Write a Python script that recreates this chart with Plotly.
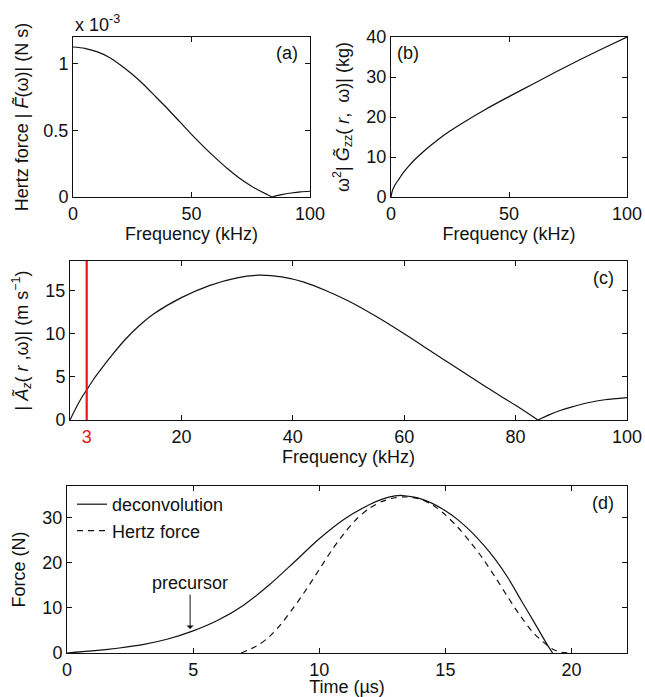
import plotly.graph_objects as go

# ---------------- data ----------------
# (a) Hertz force spectrum magnitude, units of 1e-3 N s
freq_a = [0, 5, 10, 15, 20, 25, 30, 35, 40, 45, 50, 55, 60, 65, 70, 75, 80, 84, 86, 88, 92, 96, 100]
hertz_spec = [1.125, 1.115, 1.09, 1.05, 0.99, 0.92, 0.84, 0.75, 0.66, 0.565, 0.47, 0.38, 0.295,
              0.215, 0.145, 0.085, 0.035, 0.0, 0.01, 0.018, 0.03, 0.039, 0.043]

# (b) omega^2 |G_zz| (kg)
freq_b = [0, 0.5, 1, 2, 3.5, 5, 7.5, 10, 15, 20, 25, 30, 40, 50, 60, 70, 80, 90, 100]
mass_b = [0, 1.4, 2.2, 3.3, 4.6, 5.9, 7.7, 9.3, 12.0, 14.4, 16.5, 18.4, 21.9, 25.1, 28.2, 31.3, 34.3, 37.2, 40.0]

# (c) |A_z| (m s^-1)
freq_c = [0, 1, 2, 3, 4, 5, 7.5, 10, 12.5, 15, 20, 25, 30, 34, 38, 42, 46, 50, 55, 60, 65, 70, 75, 80,
          84, 86, 88, 90, 93, 96, 100]
accel_c = [0, 1.3, 2.5, 3.5, 4.5, 5.4, 7.5, 9.4, 11.0, 12.3, 14.2, 15.6, 16.5, 16.8, 16.6, 16.0, 15.0,
           13.8, 12.0, 10.0, 7.9, 5.8, 3.7, 1.7, 0.0, 0.6, 1.1, 1.5, 2.0, 2.35, 2.6]
marker_freq = 3

# (d) force histories (N)
time_dec = [0, 1, 2, 3, 4, 5, 6, 7, 8, 9, 10, 11, 12, 12.5, 13, 13.3, 13.7, 14, 14.5, 15, 15.5, 16,
            16.5, 17, 17.5, 18, 18.5, 19, 19.25]
force_dec = [0, 0.45, 1.05, 1.85, 3.1, 4.9, 7.3, 10.6, 15.0, 20.1, 25.3, 29.7, 32.9, 34.1, 34.8, 34.9,
             34.6, 34.2, 33.1, 31.5, 29.5, 27.0, 24.0, 20.6, 16.5, 11.7, 7.0, 2.2, 0]
time_hz = [6.9, 7.5, 8, 8.5, 9, 9.5, 10, 10.5, 11, 11.5, 12, 12.5, 13, 13.4, 14, 14.5, 15, 15.5, 16,
           16.5, 17, 17.5, 18, 18.5, 19, 19.3, 19.6, 20]
force_hz = [0, 1.5, 3.5, 6.5, 10.2, 14.2, 18.5, 22.8, 26.6, 29.8, 32.1, 33.6, 34.4, 34.6, 34.1, 32.8,
            30.6, 27.8, 24.5, 20.8, 16.6, 12.2, 8.0, 4.4, 1.9, 0.7, 0.15, 0]
precursor_t = 4.88
precursor_f = 5.3

# ---------------- figure ----------------
W, H = 645, 697
FONT = "Liberation Sans, Arial, Helvetica, sans-serif"
INK = "#111111"
RED = "#e8151b"


def px_x(a, b):
    return [a / W, b / W]


def px_y(top, bottom):
    return [1 - bottom / H, 1 - top / H]


def cusp_split(xs, ys):
    """split a |.| curve at its interior zero so each branch can be smoothed"""
    k = ys.index(0.0, 1)
    return (xs[:k + 1], ys[:k + 1]), (xs[k:], ys[k:])


fig = go.Figure()
line = dict(color=INK, width=1.2, shape="spline", smoothing=0.8)

for (xs, ys) in cusp_split(freq_a, hertz_spec):
    fig.add_trace(go.Scatter(x=xs, y=ys, mode="lines", line=line, showlegend=False,
                             xaxis="x", yaxis="y"))
fig.add_trace(go.Scatter(x=freq_b, y=mass_b, mode="lines", line=line, showlegend=False,
                         xaxis="x2", yaxis="y2"))
for (xs, ys) in cusp_split(freq_c, accel_c):
    fig.add_trace(go.Scatter(x=xs, y=ys, mode="lines", line=line, showlegend=False,
                             xaxis="x3", yaxis="y3"))
fig.add_trace(go.Scatter(x=time_dec, y=force_dec, mode="lines", line=line, name="deconvolution",
                         xaxis="x4", yaxis="y4"))
fig.add_trace(go.Scatter(x=time_hz, y=force_hz, mode="lines", name="Hertz force",
                         line=dict(color=INK, width=1.2, dash="6px,5px", shape="spline", smoothing=0.8),
                         xaxis="x4", yaxis="y4"))

axis_common = dict(showline=True, linecolor=INK, linewidth=1, mirror="ticks", ticks="inside",
                   ticklen=5, tickcolor=INK, tickwidth=1, showgrid=False, zeroline=False,
                   automargin=False,
                   tickfont=dict(family=FONT, size=18, color=INK),
                   title_font=dict(family=FONT, size=18, color=INK))

fig.update_layout(
    width=W, height=H, margin=dict(l=0, r=0, t=0, b=0, autoexpand=False),
    paper_bgcolor="white", plot_bgcolor="white",
    font=dict(family=FONT, size=18, color=INK),
    xaxis=dict(axis_common, domain=px_x(73, 310), anchor="y", range=[0, 100],
               tickvals=[0, 50, 100], title=dict(text="Frequency (kHz)", standoff=2)),
    yaxis=dict(axis_common, domain=px_y(37, 197), anchor="x", range=[0, 1.2],
               tickvals=[0, 0.5, 1], ticktext=["0", "0.5", "1"],
               title=dict(text="Hertz force | <i>F\u0303</i>(\u03c9)| (N s)", standoff=10)),
    xaxis2=dict(axis_common, domain=px_x(391, 627), anchor="y2", range=[0, 100],
                tickvals=[0, 50, 100], title=dict(text="Frequency (kHz)", standoff=2)),
    yaxis2=dict(axis_common, domain=px_y(37, 197), anchor="x2", range=[0, 40],
                tickvals=[0, 10, 20, 30, 40],
                title=dict(text="\u03c9<sup>2</sup>| <i>G\u0303</i><sub>zz</sub>( <i>r</i>,  \u03c9)| (kg)",
                           standoff=12)),
    xaxis3=dict(axis_common, domain=px_x(70, 627), anchor="y3", range=[0, 100],
                tickvals=[marker_freq, 20, 40, 60, 80, 100],
                ticktext=["<span style='color:%s'>3</span>" % RED, "20", "40", "60", "80", "100"],
                title=dict(text="Frequency (kHz)", standoff=2)),
    yaxis3=dict(axis_common, domain=px_y(261, 420), anchor="x3", range=[0, 18.45],
                tickvals=[0, 5, 10, 15],
                title=dict(text="| <i>A\u0303</i><sub><i>z</i></sub>( <i>r</i> ,\u03c9)| (m s<sup>\u22121</sup>)",
                           standoff=12)),
    xaxis4=dict(axis_common, domain=px_x(67, 627), anchor="y4", range=[0, 22.2],
                tickvals=[0, 5, 10, 15, 20], title=dict(text="Time (\u00b5s)", standoff=4)),
    yaxis4=dict(axis_common, domain=px_y(486, 653), anchor="x4", range=[0, 37],
                tickvals=[0, 10, 20, 30], title=dict(text="Force (N)", standoff=12)),
    legend=dict(x=72 / W, y=1 - 486 / H, xanchor="left", yanchor="top",
                bgcolor="rgba(0,0,0,0)", font=dict(family=FONT, size=18, color=INK),
                tracegroupgap=0),
    shapes=[dict(type="line", xref="x3", yref="y3 domain", x0=marker_freq, x1=marker_freq,
                 y0=0, y1=1, line=dict(color=RED, width=2.2))],
    annotations=[
        dict(text="x 10<sup>-3</sup>", xref="paper", yref="paper", x=73 / W, y=1 - 24 / H,
             xanchor="left", yanchor="middle", showarrow=False, font=dict(size=18)),
        dict(text="(a)", xref="paper", yref="paper", x=300 / W, y=1 - 53 / H,
             xanchor="right", yanchor="middle", showarrow=False, font=dict(size=18)),
        dict(text="(b)", xref="paper", yref="paper", x=395 / W, y=1 - 53 / H,
             xanchor="left", yanchor="middle", showarrow=False, font=dict(size=18)),
        dict(text="(c)", xref="paper", yref="paper", x=616 / W, y=1 - 278 / H,
             xanchor="right", yanchor="middle", showarrow=False, font=dict(size=18)),
        dict(text="(d)", xref="paper", yref="paper", x=616 / W, y=1 - 503 / H,
             xanchor="right", yanchor="middle", showarrow=False, font=dict(size=18)),
        dict(text="precursor", xref="x4", yref="y4", x=precursor_t, y=precursor_f,
             ax=0, ay=-46, showarrow=True, arrowhead=1, arrowsize=1.2, arrowwidth=1,
             arrowcolor=INK, font=dict(size=18)),
    ],
)

fig.write_html("out.html", config={"displayModeBar": False},
               post_script="document.body.style.margin='0';document.body.style.overflow='hidden';")
